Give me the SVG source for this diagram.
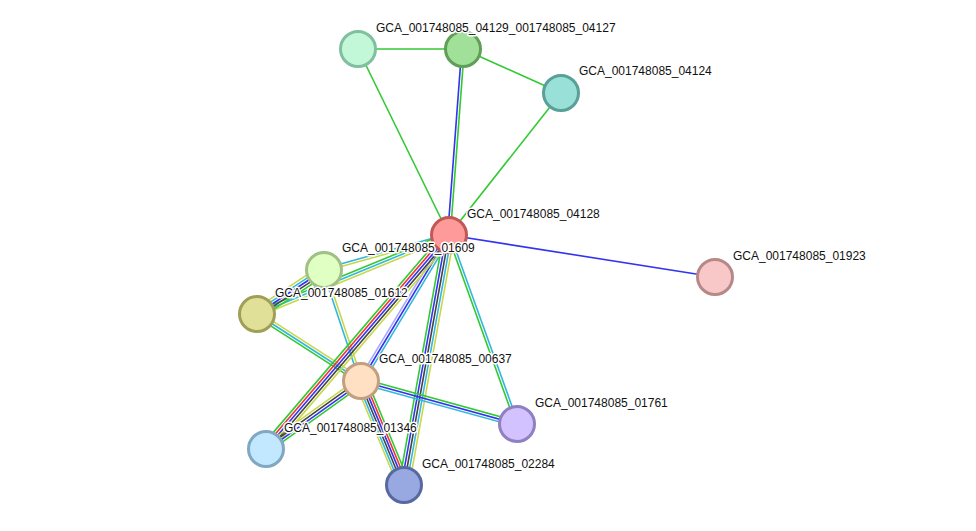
<svg xmlns="http://www.w3.org/2000/svg" width="976" height="531" viewBox="0 0 976 531">
<style>
.e line{stroke-width:1.6;fill:none}
.g{stroke:#33c933}.b{stroke:#3333f0}.r{stroke:#f03333}.k{stroke:#444}.y{stroke:#c8d84a}.c{stroke:#33b8dd}.l{stroke:#a8a8ff}
circle{stroke-width:3}
text{font-family:"Liberation Sans",Arial,sans-serif;font-size:12px;fill:#111;stroke:#fff;stroke-width:3px;paint-order:stroke;stroke-linejoin:round}
</style>
<rect width="976" height="531" fill="#fff"/>
<g id="connectors" class="e">
<line class="g" x1="358" y1="49" x2="463" y2="49"/>
<line class="g" x1="358" y1="49" x2="449" y2="235"/>
<line class="g" x1="463" y1="49" x2="561" y2="93"/>
<line class="g" x1="561" y1="93" x2="449" y2="235"/>
<line class="b" x1="461.7" y1="48.9" x2="447.7" y2="234.9"/>
<line class="g" x1="464.3" y1="49.1" x2="450.3" y2="235.1"/>
<line class="b" x1="449" y1="235" x2="715" y2="277"/>
<line class="c" x1="323.65" y1="268.75" x2="448.65" y2="233.75"/>
<line class="y" x1="324.35" y1="271.25" x2="449.35" y2="236.25"/>
<line class="g" x1="256.01" y1="311.6" x2="448.01" y2="232.6"/>
<line class="c" x1="257" y1="314" x2="449" y2="235"/>
<line class="y" x1="257.99" y1="316.4" x2="449.99" y2="237.4"/>
<line class="y" x1="254.14" y1="309.66" x2="321.14" y2="265.66"/>
<line class="c" x1="255.57" y1="311.83" x2="322.57" y2="267.83"/>
<line class="b" x1="257" y1="314" x2="324" y2="270"/>
<line class="k" x1="258.43" y1="316.17" x2="325.43" y2="272.17"/>
<line class="g" x1="259.86" y1="318.34" x2="326.86" y2="274.34"/>
<line class="y" x1="258.41" y1="311.81" x2="362.41" y2="378.81"/>
<line class="c" x1="257" y1="314" x2="361" y2="381"/>
<line class="g" x1="255.59" y1="316.19" x2="359.59" y2="383.19"/>
<line class="c" x1="322.77" y1="270.41" x2="359.77" y2="381.41"/>
<line class="y" x1="325.23" y1="269.59" x2="362.23" y2="380.59"/>
<line class="l" x1="446.77" y1="233.66" x2="358.77" y2="379.66"/>
<line class="b" x1="449" y1="235" x2="361" y2="381"/>
<line class="c" x1="451.23" y1="236.34" x2="363.23" y2="382.34"/>
<line class="g" x1="445.04" y1="231.62" x2="262.04" y2="445.62"/>
<line class="r" x1="447.02" y1="233.31" x2="264.02" y2="447.31"/>
<line class="b" x1="449" y1="235" x2="266" y2="449"/>
<line class="k" x1="450.98" y1="236.69" x2="267.98" y2="450.69"/>
<line class="y" x1="452.96" y1="238.38" x2="269.96" y2="452.38"/>
<line class="g" x1="443.88" y1="234.08" x2="398.88" y2="484.08"/>
<line class="b" x1="446.44" y1="234.54" x2="401.44" y2="484.54"/>
<line class="k" x1="449" y1="235" x2="404" y2="485"/>
<line class="c" x1="451.56" y1="235.46" x2="406.56" y2="485.46"/>
<line class="y" x1="454.12" y1="235.92" x2="409.12" y2="485.92"/>
<line class="g" x1="447.78" y1="235.44" x2="515.78" y2="424.44"/>
<line class="c" x1="450.22" y1="234.56" x2="518.22" y2="423.56"/>
<line class="y" x1="358.73" y1="377.83" x2="263.73" y2="445.83"/>
<line class="k" x1="360.24" y1="379.94" x2="265.24" y2="447.94"/>
<line class="b" x1="361.76" y1="382.06" x2="266.76" y2="450.06"/>
<line class="g" x1="363.27" y1="384.17" x2="268.27" y2="452.17"/>
<line class="y" x1="355.5" y1="383.3" x2="398.5" y2="487.3"/>
<line class="c" x1="357.6" y1="382.4" x2="400.6" y2="486.4"/>
<line class="k" x1="359.8" y1="381.5" x2="402.8" y2="485.5"/>
<line class="b" x1="362" y1="380.6" x2="405" y2="484.6"/>
<line class="r" x1="364.2" y1="379.7" x2="407.2" y2="483.7"/>
<line class="g" x1="366.4" y1="378.8" x2="409.4" y2="482.8"/>
<line class="g" x1="361.71" y1="378.5" x2="517.71" y2="421.5"/>
<line class="b" x1="361" y1="381" x2="517" y2="424"/>
<line class="c" x1="360.29" y1="383.5" x2="516.29" y2="426.5"/>
</g>
<g id="n_04129_04127_a"><circle cx="358" cy="49" r="17.5" fill="#c2f8d8" stroke="#80c0a0"/></g>
<g id="n_04129_04127"><circle cx="463" cy="49" r="17.5" fill="#a0e098" stroke="#5f9f58"/><text x="376" y="32">GCA_001748085_04129_001748085_04127</text></g>
<g id="n_04124"><circle cx="561" cy="93" r="17.5" fill="#98e0d8" stroke="#58a098"/><text x="579" y="75">GCA_001748085_04124</text></g>
<g id="n_04128"><circle cx="449" cy="235" r="17.5" fill="#ff9a9a" stroke="#c05858"/><text x="467" y="218">GCA_001748085_04128</text></g>
<g id="n_01923"><circle cx="715" cy="277" r="17.5" fill="#f8c8c8" stroke="#b88888"/><text x="733" y="260">GCA_001748085_01923</text></g>
<g id="n_01609"><circle cx="324" cy="270" r="17.5" fill="#e0ffc2" stroke="#a0c088"/><text x="342" y="252">GCA_001748085_01609</text></g>
<g id="n_01612"><circle cx="257" cy="314" r="17.5" fill="#e0e098" stroke="#9f9f58"/><text x="275" y="297">GCA_001748085_01612</text></g>
<g id="n_00637"><circle cx="361" cy="381" r="17.5" fill="#ffe0c2" stroke="#c0a080"/><text x="379" y="363">GCA_001748085_00637</text></g>
<g id="n_01761"><circle cx="517" cy="424" r="17.5" fill="#d2c2ff" stroke="#9080c0"/><text x="535" y="407">GCA_001748085_01761</text></g>
<g id="n_01346"><circle cx="266" cy="449" r="17.5" fill="#c2e8ff" stroke="#80a8c0"/><text x="284" y="432">GCA_001748085_01346</text></g>
<g id="n_02284"><circle cx="404" cy="485" r="17.5" fill="#98a8e0" stroke="#5868a0"/><text x="422" y="468">GCA_001748085_02284</text></g>
</svg>
